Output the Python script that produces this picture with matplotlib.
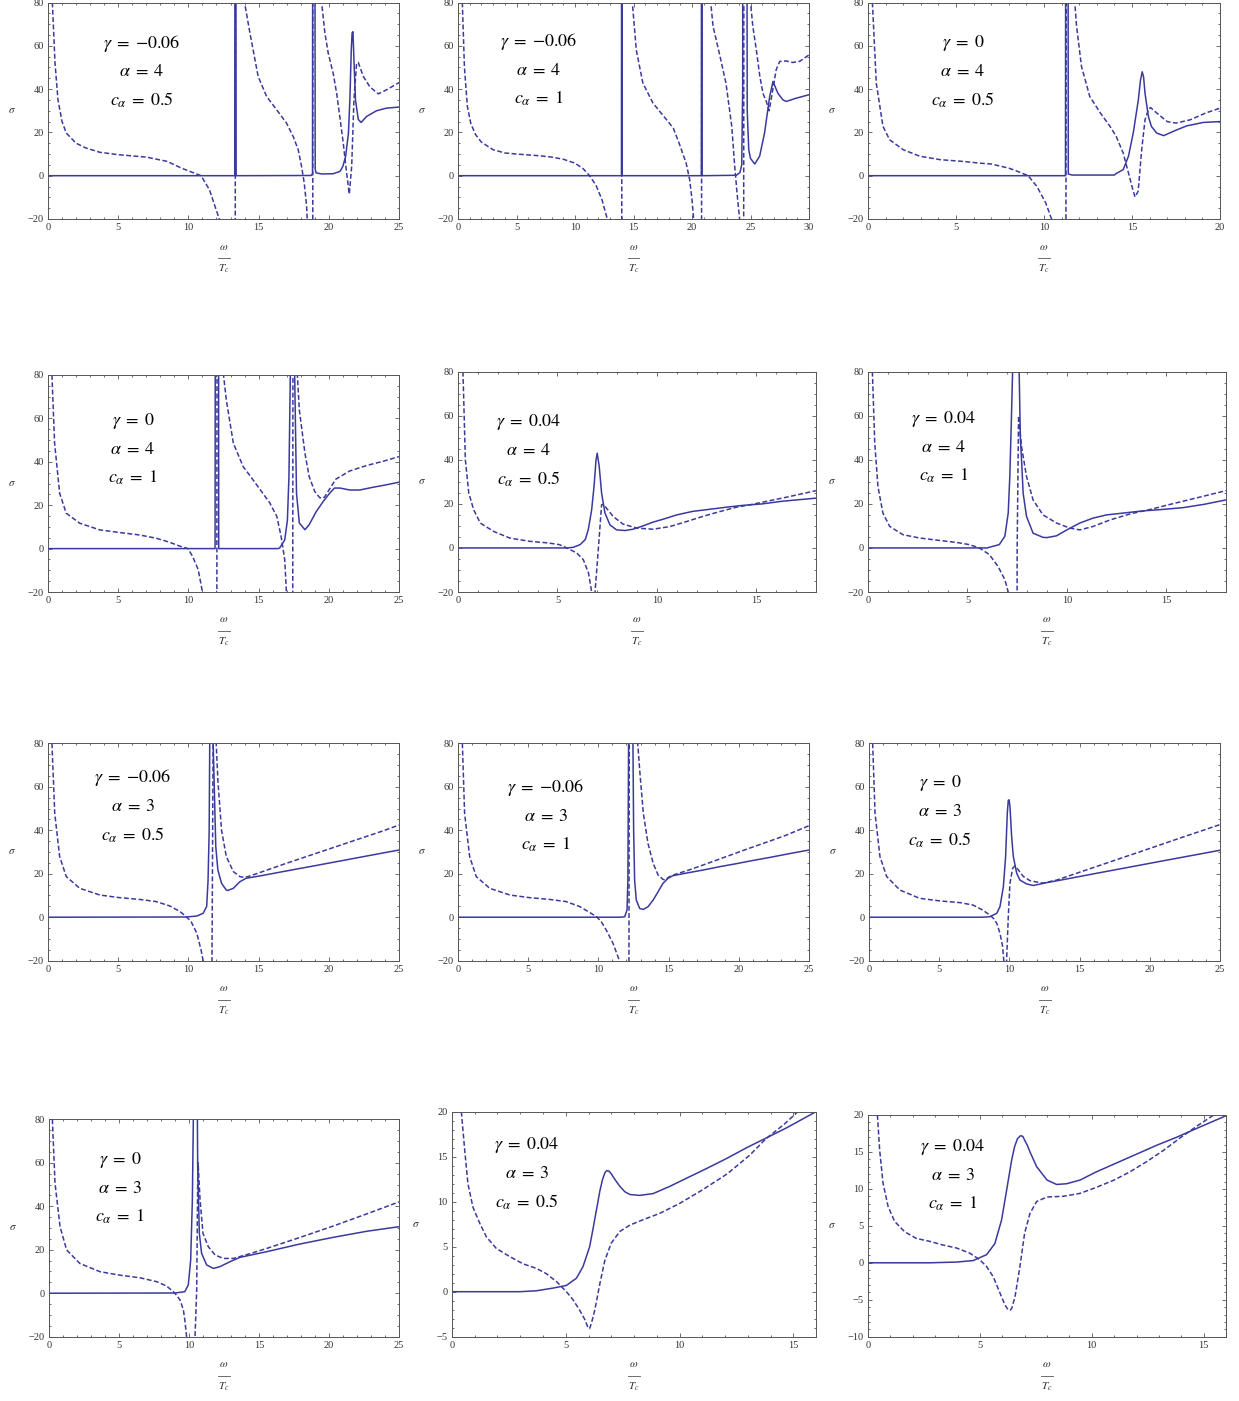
import numpy as np
import matplotlib.pyplot as plt
from matplotlib.lines import Line2D
from matplotlib.ticker import MultipleLocator

# ---- data: solid (Re) and dashed (Im) curves ----
# row 1
p1_sol_x = [0, 13.30, 13.35, 13.40, 18.75, 18.84, 18.87, 18.99, 19.03, 19.1, 19.5, 20.3, 20.8, 21.0, 21.2, 21.4,
            21.5, 21.6, 21.66, 21.72, 21.8, 21.9, 22.1, 22.3, 22.7, 23.4, 24.1, 25]
p1_sol_y = [0, 0, 300, 0, 0.1, 1, 300, 300, 3, 1.3, 0.8, 0.9, 2, 4.3, 9, 19.7,
            35, 58, 66, 66.5, 52, 35, 26, 24.6, 27.4, 30, 31.2, 31.7]
p1_dash_x = [0.31, 0.5, 0.71, 1.0, 1.3, 2.0, 2.7, 3.7, 5.0, 7.0, 8.5, 9.5, 10.9, 11.5, 12.2, 12.6, 13.3, 13.38,
             13.8, 14.0, 14.38, 14.97, 15.57, 16.28, 16.99, 17.47, 17.82, 18.06, 18.25, 18.42, 18.46, 18.7, 18.84,
             18.88, 19.3, 19.49, 19.72, 19.96, 20.32, 20.56, 20.79, 21.03, 21.27, 21.46, 21.63, 21.79, 21.98, 22.1,
             22.46, 22.93, 23.53, 24.12, 25]
p1_dash_y = [80, 52, 35, 25, 19.7, 15, 12.8, 10.8, 9.7, 8.6, 6.6, 3.5, 0, -6.5, -20, -35, -300, 300,
             130, 80, 66, 45.8, 36.6, 30.5, 24.3, 18, 12, 4.3, -3.4, -14, -20, -100, -300,
             300, 150, 80, 66, 56.6, 47, 38, 27, 15, 1.2, -8.5, 4.3, 35, 52, 52.3,
             45.8, 41, 37.8, 39.7, 43]

p2_sol_x = [0, 13.97, 14.0, 14.03, 20.8, 20.83, 20.86, 23.8, 24.1, 24.25, 24.33, 24.36, 24.64, 24.72, 24.85,
            25.0, 25.36, 25.78, 26.2, 26.64, 26.92, 27.35, 27.78, 28.06, 28.9, 30]
p2_sol_y = [0, 0, 300, 0, 0, 300, 0, 0.2, 1.5, 5, 40, 300, 300, 30, 12,
            8, 5.4, 9, 19.7, 36.6, 43.5, 38, 35, 34.3, 35.8, 37.4]
p2_dash_x = [0.37, 0.55, 0.8, 1.1, 1.5, 2.0, 3.0, 4.0, 5.0, 6.0, 7.0, 8.0, 9.0, 10.0, 10.7, 11.25, 11.8, 12.3,
             12.76, 13.2, 13.95, 14.05, 14.6, 14.9, 15.24, 15.8, 16.67, 17.5, 18.4, 18.9, 19.5, 19.8, 20.0, 20.14,
             20.5, 20.78, 20.86, 21.3, 21.6, 21.8, 22.4, 22.9, 23.4, 23.65, 23.9, 24.07, 24.25, 24.38, 24.46, 24.8,
             25.0, 25.2, 25.5, 25.8, 26.07, 26.35, 26.6, 26.9, 27.2, 27.5, 28.06, 28.6, 29.2, 30]
p2_dash_y = [80, 50, 32, 24, 19, 15.5, 12, 10.5, 10, 9.6, 9.2, 8.6, 7.6, 5.8, 3.2, 0, -4.5, -11,
             -20, -40, -300, 300, 130, 80, 58, 42.8, 33.5, 28, 22, 15, 5.8, -1.8, -11, -20,
             -60, -300, 300, 130, 80, 69, 55, 42.8, 22.8, 4.3, -11, -20, -80, -300, 300, 130,
             80, 69, 58, 45.8, 38, 34.3, 30, 39.7, 49, 52.8, 53, 52.3, 52.8, 55.8]

p3_sol_x = [0, 11.22, 11.25, 11.35, 11.38, 11.6, 14.0, 14.1, 14.5, 14.8, 15.07, 15.36, 15.48, 15.58, 15.66,
            15.74, 15.93, 16.1, 16.4, 16.8, 17.35, 18.1, 19.05, 20]
p3_sol_y = [0, 0, 300, 300, 0.8, 0.3, 0.3, 1, 2.8, 9, 19.7, 35, 44, 48, 45.5,
            38, 27.4, 22.8, 19.7, 18.5, 20.5, 23, 24.6, 25]
p3_dash_x = [0.25, 0.47, 0.85, 1.23, 2.0, 2.94, 4.1, 5.4, 6.35, 7.0, 8.0, 8.5, 9.1, 9.6, 10.1, 10.43, 10.8, 11.2,
             11.3, 11.6, 11.75, 11.85, 12.13, 12.6, 13.2, 13.75, 14.1, 14.5, 14.8, 15.0, 15.17, 15.35, 15.55,
             15.74, 15.93, 16.05, 16.4, 17.0, 17.5, 18.3, 19.2, 20]
p3_dash_y = [80, 42.8, 22.8, 16.6, 12, 9, 7.4, 6.6, 5.8, 5.4, 3.5, 2, 0, -5, -12.6, -20, -40, -300,
             300, 130, 80, 69, 50.5, 36.6, 29, 22.8, 18.2, 10.5, 1.2, -5, -9.8, -7.2, 12,
             25.8, 30.5, 31.5, 29, 25, 24.3, 25.8, 29, 31.2]

# row 2
p4_sol_x = [0, 11.9, 11.94, 12.13, 12.16, 16.4, 16.5, 16.86, 17.05, 17.16, 17.26, 17.4, 17.57, 17.7, 17.9,
            18.3, 18.6, 19.1, 19.6, 20.06, 20.4, 20.8, 21.5, 22.2, 23.1, 24.1, 25]
p4_sol_y = [0, 0, 300, 300, 0, 0, 0.3, 4, 13, 33, 80, 200, 80, 25.5, 11.8,
            8.7, 11, 17, 21.7, 25.5, 27.9, 27.9, 27, 27, 28.2, 29.4, 30.6]
p4_dash_x = [0.28, 0.47, 0.83, 1.3, 2.26, 3.7, 5.1, 6.5, 7.7, 8.67, 9.4, 9.97, 10.3, 10.7, 11.0, 11.4, 12.0,
             12.06, 12.35, 12.5, 12.7, 13.2, 13.9, 14.6, 15.3, 15.8, 16.3, 16.6, 16.86, 16.98, 17.2, 17.4,
             17.47, 17.65, 17.76, 17.9, 18.3, 18.6, 19.0, 19.35, 19.55, 19.7, 20.06, 20.5, 21.5, 22.7, 23.9, 25]
p4_dash_y = [80, 48.6, 25.5, 16.3, 11.7, 8.6, 7.4, 6.3, 4.8, 2.9, 1.1, 0, -3.6, -9.7, -20, -50, -300,
             300, 130, 80, 68.5, 48.6, 37.8, 31.7, 25.5, 21, 14.8, 5.7, -5, -20, -80, -300,
             300, 130, 80, 64, 44, 33.2, 26.3, 23.5, 23.2, 23.8, 27.5, 32, 35.8, 38.3, 40.3, 42.4]

p5_sol_x = [0, 5.5, 5.8, 6.14, 6.4, 6.55, 6.72, 6.84, 6.94, 7.0, 7.1, 7.22, 7.39, 7.64, 7.97, 8.4, 8.8, 9.3,
            9.8, 10.3, 11.0, 11.8, 12.7, 13.5, 14.3, 15.3, 16.3, 18]
p5_sol_y = [0, 0, 0.3, 1.5, 3.8, 8.3, 17.3, 27.9, 40, 43, 37, 24.9, 15.8, 10.5, 8.2, 7.9, 8.5, 10,
            11.7, 13, 15, 16.6, 17.6, 18.5, 19.3, 20, 21.2, 22.6]
p5_dash_x = [0.25, 0.37, 0.54, 0.79, 1.12, 1.79, 2.6, 3.6, 4.5, 5.1, 5.47, 5.97, 6.3, 6.56, 6.72, 6.8, 6.89,
             7.06, 7.22, 7.3, 7.47, 7.8, 8.3, 9.0, 9.8, 10.65, 11.5, 12.3, 13.2, 14.0, 14.8, 15.7, 16.5, 18]
p5_dash_y = [80, 40, 25, 17.3, 11.3, 7.5, 4.5, 3, 2.3, 1.5, 0, -2.3, -5.3, -11.3, -20, -26, -20,
             0, 19.6, 19.8, 18, 14.3, 10.8, 9, 8.5, 9.7, 12, 14.3, 16.6, 18.5, 19.8, 21.5, 23, 26]

p6_sol_x = [0, 6.0, 6.1, 6.6, 6.88, 7.05, 7.13, 7.2, 7.27, 7.43, 7.6, 7.66, 7.72, 7.8, 7.97, 8.3, 8.8, 9.0,
            9.48, 10.0, 10.65, 11.3, 12.0, 12.8, 13.8, 14.85, 15.85, 16.9, 18]
p6_sol_y = [0, 0, 0.3, 1.5, 5.3, 15.8, 32.4, 55, 80, 160, 80, 50, 40, 24.9, 14.3, 6.7, 4.8, 4.7,
            5.5, 8.2, 11.3, 13.5, 15, 15.8, 16.8, 17.5, 18.3, 19.8, 21.8]
p6_dash_x = [0.22, 0.34, 0.5, 0.75, 1.09, 1.76, 2.6, 3.6, 4.45, 5.1, 5.6, 6.1, 6.54, 6.88, 7.05, 7.3, 7.45,
             7.5, 7.57, 7.72, 7.97, 8.3, 8.8, 9.48, 10.15, 10.65, 11.3, 12.2, 13.2, 14.2, 15.2, 16.2, 18]
p6_dash_y = [80, 47.5, 27.9, 15.8, 9.8, 6, 4.5, 3.4, 2.5, 1.5, 0, -3, -8.4, -14.4, -20, -60, -300,
             0, 60, 46, 32.4, 21.8, 15, 11.3, 9, 8.2, 9.7, 12.8, 15.5, 17.5, 19.8, 22, 26]

# row 3
p7_sol_x = [0, 9.86, 10.6, 11.05, 11.3, 11.4, 11.48, 11.52, 11.64, 11.76, 11.8, 11.95, 12.1, 12.36, 12.7,
            12.8, 13.2, 13.66, 14.1, 15.1, 16.75, 19.1, 21.5, 23.9, 25]
p7_sol_y = [0, 0.1, 0.55, 1.8, 4.9, 17, 40, 80, 200, 80, 70.8, 32.4, 21.7, 15.6, 12.5,
            12.3, 13.3, 16.3, 17.9, 19, 21, 23.8, 26.7, 29.6, 30.9]
p7_dash_x = [0.28, 0.48, 0.83, 1.3, 2.26, 3.7, 5.1, 6.5, 7.7, 8.67, 9.4, 9.86, 10.2, 10.6, 10.9, 11.05, 11.3,
             11.6, 11.68, 11.76, 11.85, 11.98, 12.1, 12.36, 12.7, 13.2, 13.66, 14.0, 14.4, 15.6, 16.75, 17.9,
             19.1, 20.3, 21.5, 22.7, 23.9, 25]
p7_dash_y = [80, 47.8, 27.9, 18.7, 13.3, 10.2, 9, 8.2, 7.2, 5.2, 2.6, 0.2, -2.1, -7.4, -15, -20, -50,
             -300, -20, 80, 300, 80, 63, 40, 27.9, 21, 18.7, 18.3, 19, 21.7, 24.3, 26.8,
             29.4, 32, 34.6, 37.2, 39.8, 42.4]

p8_sol_x = [0, 11.5, 11.87, 12.04, 12.1, 12.15, 12.3, 12.46, 12.51, 12.58, 12.7, 12.94, 13.2, 13.53, 13.9,
            14.25, 14.6, 14.96, 15.3, 16.26, 17.45, 18.6, 19.8, 21.0, 22.2, 23.4, 25]
p8_sol_y = [0, 0, 0.2, 3.3, 17, 80, 250, 80, 40, 17, 7.9, 4, 3.6, 4.8, 7.9,
            11.7, 15.6, 17.9, 19.1, 20.3, 21.7, 23.2, 24.6, 26.1, 27.5, 29, 30.9]
p8_dash_x = [0.31, 0.47, 0.83, 1.3, 2.26, 3.7, 5.1, 6.5, 7.7, 8.67, 9.4, 9.85, 10.2, 10.56, 11.04, 11.5, 11.8,
             12.1, 12.18, 12.25, 12.6, 12.8, 12.94, 13.2, 13.53, 13.9, 14.25, 14.6, 14.75, 15.08, 15.55, 16.26,
             17.45, 18.6, 19.8, 21.0, 22.2, 23.4, 25]
p8_dash_y = [80, 47.8, 27.9, 18.7, 13.3, 10.2, 9, 8.2, 7.2, 4.9, 2.1, 0.3, -2, -5.9, -12, -20, -40,
             -300, 0, 300, 130, 80, 67.7, 47.8, 34, 24.8, 19.4, 17.4, 17.2, 18.7, 19.9, 21.3,
             24, 26.7, 29.5, 32.3, 35, 37.8, 42.1]

p9_sol_x = [0, 8.0, 8.6, 9.1, 9.33, 9.57, 9.73, 9.85, 9.92, 9.98, 10.04, 10.16, 10.28, 10.52, 10.75, 11.23,
            11.7, 12.65, 13.84, 16.2, 18.6, 21, 25]
p9_sol_y = [0, 0, 0.2, 1.8, 4.9, 14, 27.9, 47.8, 53.8, 54, 50.9, 37, 27.9, 20.2, 17.1, 15.3,
            14.6, 15.9, 17.3, 20.2, 23.1, 26, 30.8]
p9_dash_x = [0.26, 0.43, 0.78, 1.26, 2.2, 3.6, 5.05, 6.5, 7.4, 8.1, 8.6, 8.86, 9.1, 9.33, 9.52, 9.6, 9.7, 9.8,
             9.92, 10.04, 10.23, 10.4, 10.64, 11.0, 11.47, 12.18, 12.4, 13.37, 15.03, 17.4, 19.8, 22.15, 25]
p9_dash_y = [80, 47.8, 27.9, 18.7, 12.5, 8.7, 7.5, 6.7, 5.6, 3.3, 1, -0.5, -2.8, -7.4, -13.6, -20, -30, -20,
             0.2, 15.6, 22.5, 23.6, 21.7, 18.7, 16.8, 15.9, 15.7, 17.1, 20.75, 25.95, 31.2, 36.4, 42.6]

# row 4
p10_sol_x = [0, 9.0, 9.7, 9.95, 10.12, 10.24, 10.31, 10.45, 10.6, 10.62, 10.74, 10.9, 11.26, 11.74, 12.2,
             12.93, 13.64, 15.55, 17.9, 20.3, 22.7, 25]
p10_sol_y = [0, 0.1, 0.7, 3.8, 15.3, 42.9, 80, 200, 80, 58, 27.5, 18.3, 13, 11.4, 12.2,
             14.5, 16.5, 19.1, 22.6, 25.7, 28.5, 30.6]
p10_dash_x = [0.24, 0.43, 0.79, 1.26, 2.2, 3.64, 5.07, 6.5, 7.7, 8.4, 8.88, 9.1, 9.36, 9.6, 9.7, 9.83, 10.1,
              10.3, 10.43, 10.55, 10.62, 10.65, 10.79, 11.0, 11.38, 11.86, 12.45, 13.17, 14.36, 15.55, 17.9,
              20.3, 22.7, 25]
p10_dash_y = [80, 50.6, 30.6, 19.9, 13.7, 9.9, 8.3, 7.1, 5.3, 3.3, 0.7, -0.8, -3.1, -7.7, -12.3, -20, -80,
              -80, -20, 1.5, 50.6, 60, 42.9, 27.5, 21.4, 17.6, 16, 16, 18.2, 20.6, 25.6,
              30.9, 36.5, 42]

p11_sol_x = [0, 2.98, 3.7, 4.44, 5.03, 5.47, 5.76, 6.05, 6.2, 6.35, 6.5, 6.62, 6.72, 6.8, 6.9, 7.0, 7.18, 7.38,
             7.6, 7.82, 8.25, 8.84, 9.57, 10.3, 11.2, 12.07, 12.95, 13.83, 14.7, 16]
p11_sol_y = [0, 0, 0.1, 0.4, 0.7, 1.5, 2.8, 5, 7, 9.1, 11.2, 12.5, 13.2, 13.45, 13.4, 13.1, 12.4, 11.7,
             11.1, 10.8, 10.7, 10.9, 11.7, 12.6, 13.7, 14.8, 16.0, 17.1, 18.2, 20]
p11_dash_x = [0.41, 0.56, 0.7, 0.92, 1.22, 1.51, 1.95, 2.54, 3.12, 3.7, 4.15, 4.6, 5.03, 5.32, 5.6, 5.84,
              5.98, 6.05, 6.13, 6.28, 6.5, 6.72, 7.0, 7.38, 7.82, 8.4, 9.13, 10.0, 11.0, 12.1, 13.1, 13.8,
              14.6, 15.2, 15.5]
p11_dash_y = [20, 15.7, 12, 9.4, 7.6, 6.1, 4.8, 3.9, 3.1, 2.6, 2.0, 1.1, 0, -0.9, -2, -3.1,
              -4.0, -4.1, -3.5, -2, 0.9, 3.5, 5.4, 6.7, 7.4, 8.0, 8.7, 9.8, 11.3, 13.1, 15.2, 17.0,
              18.6, 20, 20.8]

p12_sol_x = [0, 2.76, 3.96, 4.7, 5.3, 5.67, 5.97, 6.2, 6.42, 6.55, 6.68, 6.82, 6.92, 7.0, 7.12, 7.24, 7.54,
             8.0, 8.43, 8.88, 9.48, 10.2, 11.1, 12.0, 12.9, 13.8, 14.7, 16]
p12_sol_y = [0, 0, 0.1, 0.3, 1.1, 2.6, 5.8, 9.9, 13.9, 15.7, 16.8, 17.2, 17.1, 16.6, 15.9, 15, 13,
             11.2, 10.6, 10.7, 11.2, 12.3, 13.5, 14.7, 15.9, 17.0, 18.2, 19.9]
p12_dash_x = [0.42, 0.52, 0.67, 0.9, 1.19, 1.64, 2.16, 2.76, 3.36, 3.96, 4.55, 5.0, 5.3, 5.6, 5.9, 6.12,
              6.27, 6.35, 6.42, 6.57, 6.79, 7.0, 7.24, 7.54, 8.0, 8.73, 9.48, 10.2, 11.0, 11.7, 12.46, 13.2,
              13.95, 14.7, 15.45, 15.7]
p12_dash_y = [20, 15.3, 10.8, 7.6, 5.6, 4.2, 3.3, 2.9, 2.4, 2.0, 1.3, 0.4, -0.5, -1.9, -4.1, -5.7,
              -6.4, -6.4, -6.2, -4.6, -0.5, 4, 6.7, 8.3, 8.9, 9.0, 9.4, 10.2, 11.2, 12.3, 13.7, 15.2,
              16.9, 18.5, 20, 20.5]

gammas = ['-0.06', '-0.06', '0', '0', '0.04', '0.04', '-0.06', '-0.06', '0', '0', '0.04', '0.04']
alphas = ['4', '4', '4', '4', '4', '4', '3', '3', '3', '3', '3', '3']
c_alphas = ['0.5', '1', '0.5', '1', '0.5', '1', '0.5', '1', '0.5', '1', '0.5', '1']
x_max = [25, 30, 20, 25, 18, 18, 25, 25, 25, 25, 16, 16]
y_lims = [(-20, 80)] * 10 + [(-5, 20), (-10, 20)]

curves = [
    (p1_sol_x, p1_sol_y, p1_dash_x, p1_dash_y),
    (p2_sol_x, p2_sol_y, p2_dash_x, p2_dash_y),
    (p3_sol_x, p3_sol_y, p3_dash_x, p3_dash_y),
    (p4_sol_x, p4_sol_y, p4_dash_x, p4_dash_y),
    (p5_sol_x, p5_sol_y, p5_dash_x, p5_dash_y),
    (p6_sol_x, p6_sol_y, p6_dash_x, p6_dash_y),
    (p7_sol_x, p7_sol_y, p7_dash_x, p7_dash_y),
    (p8_sol_x, p8_sol_y, p8_dash_x, p8_dash_y),
    (p9_sol_x, p9_sol_y, p9_dash_x, p9_dash_y),
    (p10_sol_x, p10_sol_y, p10_dash_x, p10_dash_y),
    (p11_sol_x, p11_sol_y, p11_dash_x, p11_dash_y),
    (p12_sol_x, p12_sol_y, p12_dash_x, p12_dash_y),
]

# ---- layout (pixel boxes: left, top, right, bottom) ----
W, H = 1239, 1401
boxes = [
    (48, 2.5, 399, 219), (458, 2.5, 809, 219), (868, 2.5, 1220, 219),
    (48, 375, 399, 592), (458, 371.7, 816, 592), (868, 371.7, 1226, 592),
    (48, 743.3, 399, 960.7), (458, 743.3, 809, 960.7), (869, 743.3, 1220, 960.7),
    (49, 1119.3, 399, 1336.7), (452, 1111.7, 816, 1336.7), (868, 1115, 1226, 1336.7),
]
label_pos = [(142, 43), (539, 42), (963, 43), (133, 421), (529, 422), (944, 419),
             (133, 778), (546, 788), (940, 783), (120, 1160), (527, 1145), (953, 1147)]

plt.rcParams['font.family'] = 'Liberation Serif'
plt.rcParams['mathtext.fontset'] = 'stix'

BLUE = '#3a3a9e'
FRAME = '#555555'

fig = plt.figure(figsize=(W / 100, H / 100), dpi=100)

for i in range(12):
    l, t, r, b = boxes[i]
    ax = fig.add_axes([l / W, 1 - b / H, (r - l) / W, (b - t) / H])
    sx, sy, dx, dy = curves[i]
    ax.plot(sx, sy, color=BLUE, lw=1.1)
    ax.plot(dx, dy, color=BLUE, lw=1.1, ls=(0, (3.2, 1.6)))
    ax.set_xlim(0, x_max[i])
    ax.set_ylim(*y_lims[i])

    ax.xaxis.set_major_locator(MultipleLocator(5))
    ax.xaxis.set_minor_locator(MultipleLocator(1))
    if y_lims[i][1] == 80:
        ax.yaxis.set_major_locator(MultipleLocator(20))
        ax.yaxis.set_minor_locator(MultipleLocator(5))
    else:
        ax.yaxis.set_major_locator(MultipleLocator(5))
        ax.yaxis.set_minor_locator(MultipleLocator(1))
    ax.tick_params(which='both', direction='in', top=True, right=True, color=FRAME,
                   labelsize=7.5, labelcolor='#333333', pad=3, width=0.6)
    ax.tick_params(which='major', length=3)
    ax.tick_params(which='minor', length=1.6)
    for sp in ax.spines.values():
        sp.set_color(FRAME)
        sp.set_linewidth(0.7)

    # sigma label and omega / T_c fraction
    cy = (t + b) / 2
    fig.text((l - 36) / W, 1 - cy / H, r'$\sigma$', ha='center', va='center', fontsize=8, color='#333333')
    cx = (l + r) / 2
    fig.text(cx / W, 1 - (b + 28) / H, r'$\omega$', ha='center', va='center', fontsize=8, color='#333333')
    fig.add_artist(Line2D([(cx - 6) / W, (cx + 6) / W], [1 - (b + 39) / H, 1 - (b + 39) / H],
                          color='#555555', lw=0.6))
    fig.text(cx / W, 1 - (b + 50) / H, r'$T_c$', ha='center', va='center', fontsize=8, color='#333333')

    # parameter labels
    px, py = label_pos[i]
    g = gammas[i].replace('-', '{-}')
    lines = [r'$\gamma\;=\;%s$' % g, r'$\alpha\;=\;%s$' % alphas[i],
             r'$c_\alpha\;=\;%s$' % c_alphas[i]]
    for k, s in enumerate(lines):
        fig.text(px / W, 1 - (py + k * 28.5) / H, s, ha='center', va='center', fontsize=13)

fig.savefig('out.png', dpi=100)
